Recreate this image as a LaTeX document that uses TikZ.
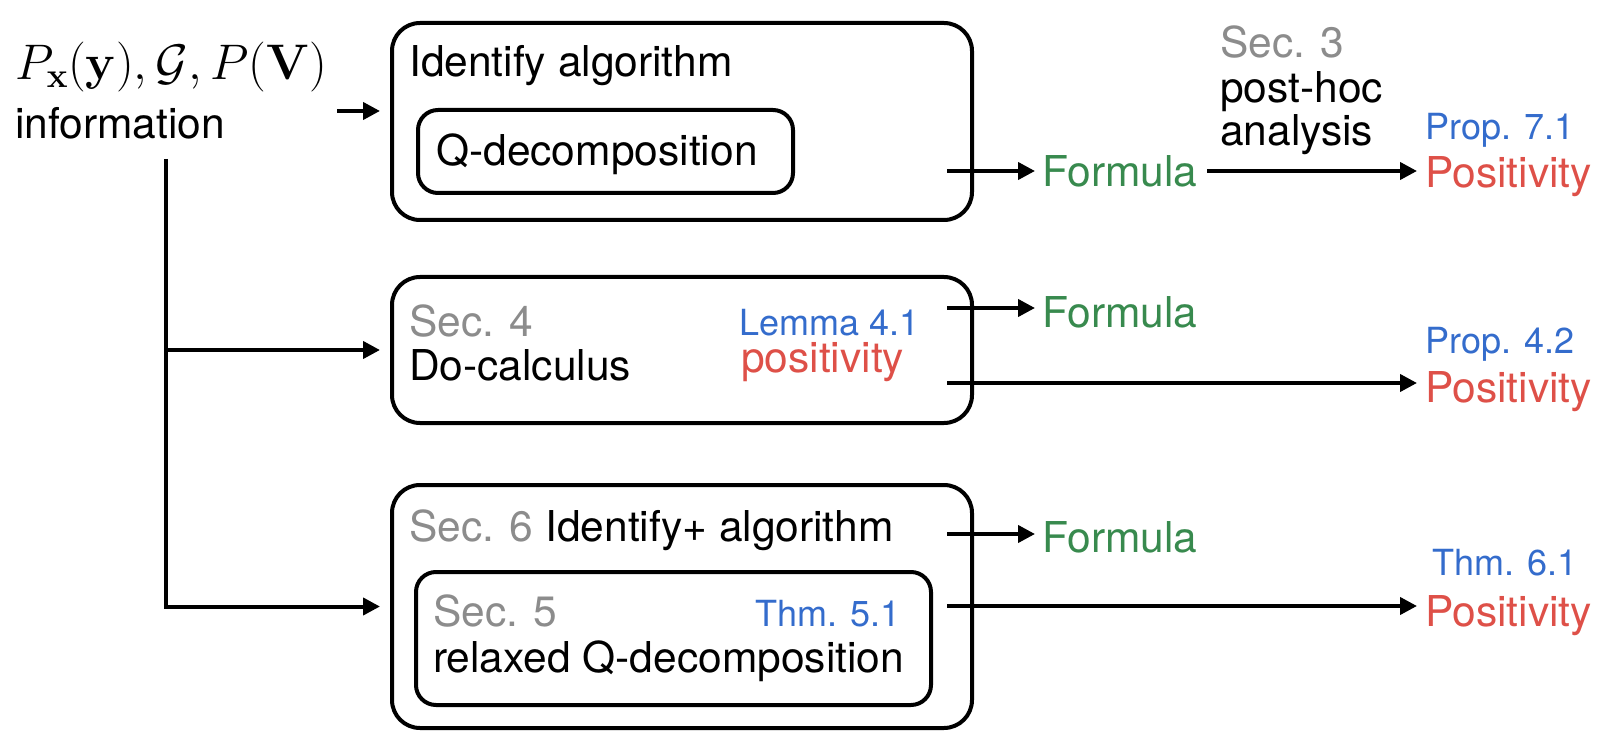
\documentclass[tikz,border=0pt]{standalone}
\usepackage{fix-cm}
\usepackage[no-math]{fontspec}
\setmainfont{TeX Gyre Heros}
\usetikzlibrary{arrows.meta}
\definecolor{cgreen}{RGB}{56,138,78}
\definecolor{cblue}{RGB}{52,108,204}
\definecolor{cred}{RGB}{222,80,72}
\definecolor{cgray}{RGB}{140,140,140}
\begin{document}
\begin{tikzpicture}[x=1pt,y=-1pt,
  box/.style={draw, line width=4pt, rounded corners=28pt, anchor=north west, inner sep=0pt},
  inbox/.style={draw, line width=4pt, rounded corners=20pt, anchor=north west, inner sep=0pt},
  txt/.style={anchor=base west, inner sep=0pt, font=\fontsize{42.5}{50}\selectfont},
  small/.style={anchor=base west, inner sep=0pt, font=\fontsize{36}{42}\selectfont},
  arr/.style={line width=4pt, -{Triangle[length=17pt,width=17pt]}},
  ]
\useasboundingbox (0,0) rectangle (1610,746);

% boxes
\node[box, minimum width=580pt, minimum height=197pt] (b1) at (390,21) {};
\node[inbox, minimum width=375pt, minimum height=83pt] (q1) at (416,108) {};
\node[box, minimum width=580pt, minimum height=146pt] (b2) at (390,275) {};
\node[box, minimum width=580pt, minimum height=243pt] (b3) at (390,483) {};
\node[inbox, minimum width=515pt, minimum height=133pt] (q3) at (414,570) {};

% left texts
\node[anchor=base west, inner sep=0pt, font=\fontsize{50}{58}\selectfont] (math) at (15,80)
  {$P_{\mathbf{x}}(\mathbf{y}), \mathcal{G}, P(\mathbf{V})$};
\node[txt] (info) at (15,139) {information};

% box texts
\node[txt] (t1) at (409,77) {Identify algorithm};
\node[txt] (t1q) at (436,166) {Q-decomposition};
\node[txt, text=cgray] (s4) at (409,336) {Sec. 4};
\node[txt] (dc) at (409,380) {Do-calculus};
\node[small, text=cblue] (lem) at (739,335) {Lemma 4.1};
\node[txt, text=cred] (pos0) at (741,372) {positivity};
\node[txt] (t3) at (409,541) {\textcolor{cgray}{Sec. 6} Identify+ algorithm};
\node[txt, text=cgray] (s5) at (433,626) {Sec. 5};
\node[small, text=cblue] (thm5) at (755,626) {Thm. 5.1};
\node[txt] (rq) at (433,672) {relaxed Q-decomposition};

% right texts
\node[txt, text=cgreen] (f1) at (1042,187) {Formula};
\node[txt, text=cgray] (s3) at (1220,58) {Sec. 3};
\node[txt] (ph) at (1220,103) {post-hoc};
\node[txt] (an) at (1220,146) {analysis};
\node[small, text=cblue] (pr1) at (1425,140) {Prop. 7.1};
\node[txt, text=cred] (p1) at (1425,188) {Positivity};

\node[txt, text=cgreen] (f2) at (1042,327) {Formula};
\node[small, text=cblue] (pr2) at (1425,353) {Prop. 4.2};
\node[txt, text=cred] (p2) at (1425,402) {Positivity};

\node[txt, text=cgreen] (f3) at (1042,552) {Formula};
\node[small, text=cblue] (th6) at (1432,575) {Thm. 6.1};
\node[txt, text=cred] (p3) at (1425,626) {Positivity};

% left connectors
\coordinate (a0) at (337,111);
\draw[arr, shorten >=10pt] (a0) -- (a0 -| b1.west);
\coordinate (v0) at (166,159);
\draw[arr, shorten >=10pt] (v0) |- (b3.west);
\draw[arr, shorten >=10pt] (v0 |- b2.west) -- (b2.west);

% right connectors
\coordinate (o1) at (947,171);
\coordinate (o2) at (947,308);
\coordinate (o3) at (947,383);
\coordinate (o4) at (947,534);
\coordinate (o5) at (947,606);
\draw[arr, shorten >=7pt] (o1) -- (o1 -| f1.west);
\draw[arr, shorten <=10pt, shorten >=8pt] (o1 -| f1.east) -- (o1 -| p1.west);
\draw[arr, shorten >=7pt] (o2) -- (o2 -| f2.west);
\draw[arr, shorten >=8pt] (o3) -- (o3 -| p2.west);
\draw[arr, shorten >=7pt] (o4) -- (o4 -| f3.west);
\draw[arr, shorten >=8pt] (o5) -- (o5 -| p3.west);
\end{tikzpicture}
\end{document}
